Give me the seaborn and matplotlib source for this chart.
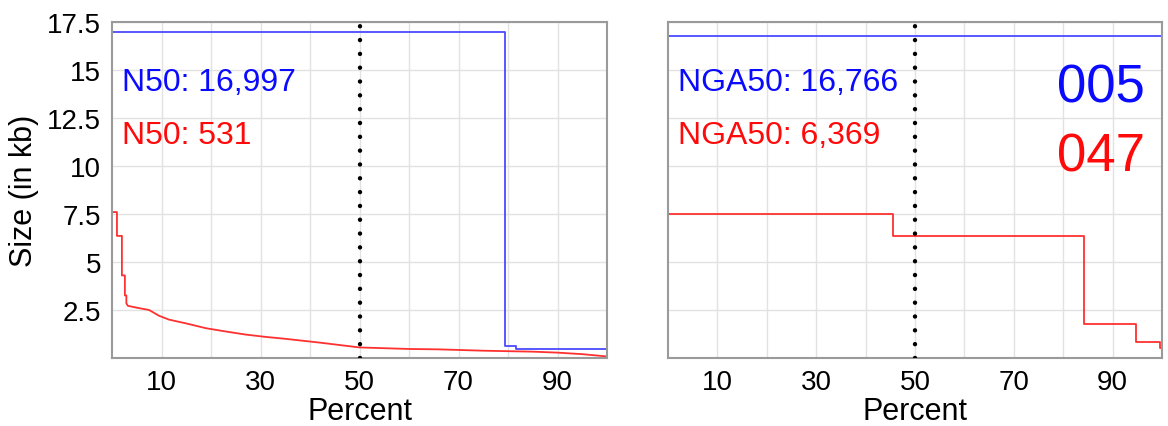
import numpy as np
import pandas as pd
import seaborn as sn
import matplotlib.pyplot as plt

# cumulative size curves, (percent, size in kb)
n50_blue_x = [0, 79.4, 81.6, 100]
n50_blue_y = [17.0, 0.62, 0.47, 0.47]
# left red curve: steep steps at the start, then a smooth decline
n50_red_x = [0, 1.0, 1.0, 2.0, 2.0, 2.6, 2.6, 2.9, 2.9, 3.2, 5, 7.5, 9.5, 11.5, 15, 19, 23, 27, 31, 35, 42, 50, 60, 66, 75, 85, 90, 95, 100]
n50_red_y = [7.6, 7.6, 6.36, 6.36, 4.3, 4.3, 3.26, 3.26, 2.85, 2.72, 2.62, 2.5, 2.2, 2.0, 1.8, 1.55, 1.38, 1.22, 1.1, 1.0, 0.8, 0.55, 0.47, 0.45, 0.38, 0.33, 0.28, 0.2, 0.08]

nga50_blue_x = [0, 100]
nga50_blue_y = [16.77, 16.77]
nga50_red_x = [0, 45.5, 84.3, 94.8, 99.5, 100]
nga50_red_y = [7.5, 6.37, 1.75, 0.83, 0.5, 0.5]

left_labels = ['N50: 16,997', 'N50: 531']
right_labels = ['NGA50: 16,766', 'NGA50: 6,369']
big_labels = ['005', '047']

x_ticks = [10, 20, 30, 40, 50, 60, 70, 80, 90]
x_ticklabels = ['10', '', '30', '', '50', '', '70', '', '90']
y_ticks = [2.5, 5, 7.5, 10, 12.5, 15, 17.5]
y_ticklabels = ['2.5', '5', '7.5', '10', '12.5', '15', '17.5']

BLUE_LINE = '#4a4aff'
RED_LINE = '#ff3030'
BLUE_TXT = '#0a0aff'
RED_TXT = '#ff0a0a'

sn.set_style('white')
plt.rcParams['font.family'] = ['Liberation Sans', 'DejaVu Sans']
plt.rcParams['text.color'] = 'black'
plt.rcParams['axes.labelcolor'] = 'black'
plt.rcParams['xtick.color'] = 'black'
plt.rcParams['ytick.color'] = 'black'


def style_axes(ax, show_y):
    ax.set_xlim(0, 100)
    ax.set_ylim(0, 17.5)
    ax.set_xticks(x_ticks)
    ax.set_xticklabels(x_ticklabels, fontsize=20)
    ax.set_yticks(y_ticks)
    if show_y:
        ax.set_yticklabels(y_ticklabels, fontsize=20)
    else:
        ax.set_yticklabels([])
    ax.tick_params(length=0, pad=8)
    ax.grid(True, color='#e2e2e2', lw=1)
    ax.set_axisbelow(True)
    for sp in ax.spines.values():
        sp.set_color('#9a9a9a')
        sp.set_linewidth(1.5)
    ax.axvline(50, color='black', lw=3.2, linestyle=(0, (0.01, 3.1)), dash_capstyle='round', zorder=5)
    ax.set_xlabel('Percent', fontsize=22, labelpad=1)


fig = plt.figure(figsize=(11.68, 4.27), dpi=100)
ax1 = fig.add_axes([112 / 1168, 68 / 427, 495 / 1168, 336 / 427])
ax2 = fig.add_axes([668 / 1168, 68 / 427, 494 / 1168, 336 / 427])

# left panel
sn.lineplot(x=n50_blue_x, y=n50_blue_y, color=BLUE_LINE, drawstyle='steps-post', lw=1.3,
            estimator=None, ax=ax1)
sn.lineplot(x=n50_red_x, y=n50_red_y, color=RED_LINE, lw=1.3, sort=False, estimator=None, ax=ax1)

# right panel
df_right = pd.concat([
    pd.DataFrame({'Percent': nga50_blue_x, 'Size': nga50_blue_y, 'set': 'blue'}),
    pd.DataFrame({'Percent': nga50_red_x, 'Size': nga50_red_y, 'set': 'red'}),
], ignore_index=True)
sn.lineplot(data=df_right, x='Percent', y='Size', hue='set', palette={'blue': BLUE_LINE, 'red': RED_LINE},
            drawstyle='steps-post', lw=1.3, legend=False, ax=ax2, estimator=None)

style_axes(ax1, True)
style_axes(ax2, False)
ax1.set_ylabel('Size (in kb)', fontsize=22, labelpad=6)
ax2.set_ylabel('')

ax1.text(2, 14.4, left_labels[0], color=BLUE_TXT, fontsize=23, va='center')
ax1.text(2, 11.6, left_labels[1], color=RED_TXT, fontsize=23, va='center')
ax2.text(2, 14.4, right_labels[0], color=BLUE_TXT, fontsize=23, va='center')
ax2.text(2, 11.6, right_labels[1], color=RED_TXT, fontsize=23, va='center')
ax2.text(96.6, 14.1, big_labels[0], color=BLUE_TXT, fontsize=38, va='center', ha='right')
ax2.text(96.6, 10.5, big_labels[1], color=RED_TXT, fontsize=38, va='center', ha='right')

plt.savefig('out.png', dpi=100)
